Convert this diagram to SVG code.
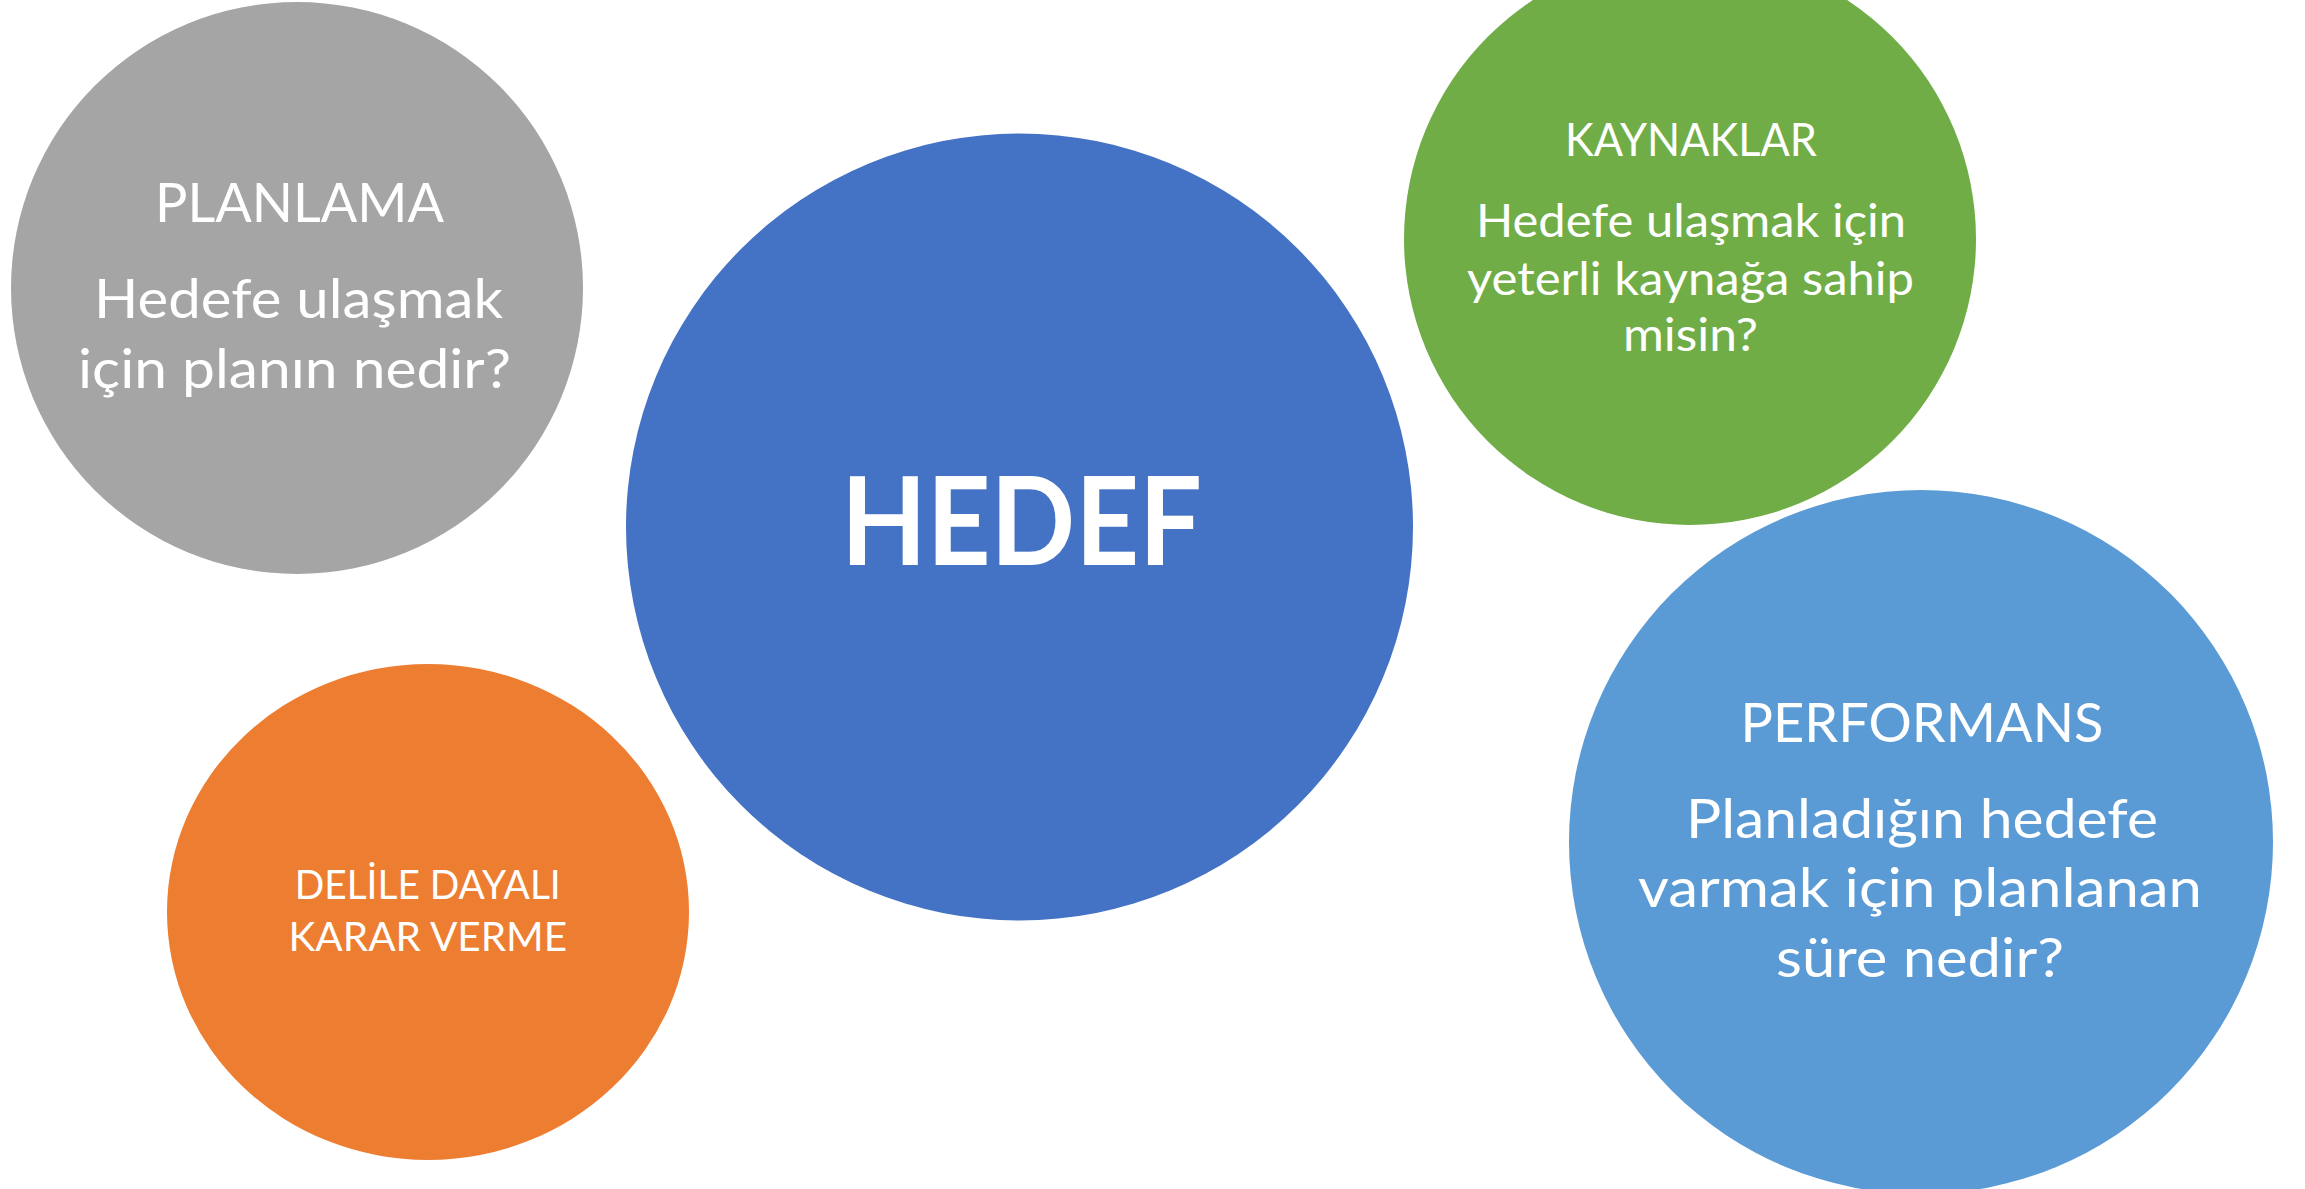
<svg xmlns="http://www.w3.org/2000/svg" width="2305" height="1189" viewBox="0 0 2305 1189">
<style>
text{font-family:Lato,"Liberation Sans","DejaVu Sans",sans-serif;fill:#ffffff;text-anchor:middle}
.g{font-size:55px}
.k{font-size:46px}
.p{font-size:55px}
.o{font-size:41px}
.h{font-size:123px;font-weight:bold}
</style>
<rect x="0" y="0" width="2305" height="1189" fill="#ffffff"/>
<g id="connectors"/>
<g id="planlama">
<circle cx="297" cy="288" r="286" fill="#A5A5A5"/>
<text class="g" x="299.5" y="222" textLength="289" lengthAdjust="spacingAndGlyphs">PLANLAMA</text>
<text class="g" x="298.5" y="318" textLength="409" lengthAdjust="spacingAndGlyphs">Hedefe ulaşmak</text>
<text class="g" x="294.5" y="388" textLength="433" lengthAdjust="spacingAndGlyphs">için planın nedir?</text>
</g>
<g id="hedef">
<circle cx="1019.5" cy="527" r="393.5" fill="#4472C4"/>
<text class="h" x="1021.5" y="565" textLength="361" lengthAdjust="spacingAndGlyphs">HEDEF</text>
</g>
<g id="kaynaklar">
<circle cx="1690" cy="239" r="286" fill="#70AD47"/>
<text class="k" x="1691" y="156" textLength="252" lengthAdjust="spacingAndGlyphs">KAYNAKLAR</text>
<text class="k" x="1691" y="237" textLength="430" lengthAdjust="spacingAndGlyphs">Hedefe ulaşmak için</text>
<text class="k" x="1690.5" y="295" textLength="447" lengthAdjust="spacingAndGlyphs">yeterli kaynağa sahip</text>
<text class="k" x="1690.5" y="351" textLength="135" lengthAdjust="spacingAndGlyphs">misin?</text>
</g>
<g id="performans">
<circle cx="1921" cy="842" r="352" fill="#5B9BD5"/>
<text class="p" x="1922" y="742" textLength="363" lengthAdjust="spacingAndGlyphs">PERFORMANS</text>
<text class="p" x="1922" y="838" textLength="472" lengthAdjust="spacingAndGlyphs">Planladığın hedefe</text>
<text class="p" x="1920" y="907" textLength="564" lengthAdjust="spacingAndGlyphs">varmak için planlanan</text>
<text class="p" x="1920" y="976.5" textLength="288" lengthAdjust="spacingAndGlyphs">süre nedir?</text>
</g>
<g id="karar">
<ellipse cx="428" cy="912" rx="261" ry="248" fill="#ED7D31"/>
<text class="o" x="427.7" y="899" textLength="266" lengthAdjust="spacingAndGlyphs">DELİLE DAYALI</text>
<text class="o" x="427.8" y="950.5" textLength="278.6" lengthAdjust="spacingAndGlyphs">KARAR VERME</text>
</g>
</svg>
